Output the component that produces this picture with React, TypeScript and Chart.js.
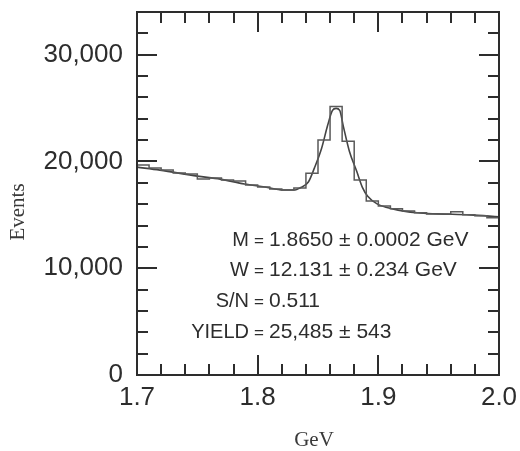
import React, { useEffect, useRef } from "react";
import { Chart, registerables } from "chart.js";

Chart.register(...registerables);

// ---- data ----
const binLow = [
  1.7, 1.71, 1.72, 1.73, 1.74, 1.75, 1.76, 1.77, 1.78, 1.79,
  1.8, 1.81, 1.82, 1.83, 1.84, 1.85, 1.86, 1.87, 1.88, 1.89,
  1.9, 1.91, 1.92, 1.93, 1.94, 1.95, 1.96, 1.97, 1.98, 1.99,
];
const binHighEnd = 2.0;
const binCounts = [
  19660, 19380, 19190, 18910, 18820, 18350, 18450, 18260, 18170, 17800,
  17610, 17420, 17330, 17520, 18900, 22000, 25150, 21900, 18260, 16300,
  15840, 15560, 15370, 15190, 15090, 15090, 15280, 15000, 14910, 14720,
];

const fitMass = [
  1.7, 1.719, 1.75, 1.769, 1.789, 1.806, 1.821, 1.831, 1.835, 1.842,
  1.847, 1.853, 1.858, 1.862, 1.865, 1.868, 1.871, 1.876, 1.882, 1.887,
  1.891, 1.899, 1.912, 1.932, 1.949, 1.976, 2.0,
];
const fitEvents = [
  19470, 19190, 18630, 18350, 17890, 17610, 17330, 17330, 17520, 18075,
  19380, 21240, 23390, 24780, 24970, 24780, 23290, 20960, 19100, 17520,
  16770, 16030, 15560, 15190, 15090, 15000, 14810,
];

const xMin = 1.7;
const xMax = 2.0;
const yMin = 0;
const yMax = 34000;
const xLabelValues = [1.7, 1.8, 1.9, 2.0];
const yLabelValues = [0, 10000, 20000, 30000];
const xMinorTicks = [1.72, 1.74, 1.76, 1.78, 1.82, 1.84, 1.86, 1.88, 1.92, 1.94, 1.96, 1.98];
const xMajorTicks = [1.8, 1.9];
const yMinorTicks = [2000, 4000, 6000, 8000, 12000, 14000, 16000, 18000, 22000, 24000, 26000, 28000, 32000];
const yMajorTicks = [10000, 20000, 30000];

const statNames = ["M", "W", "S/N", "YIELD"];
const statValues = ["1.8650 \u00b1 0.0002 GeV", "12.131 \u00b1 0.234 GeV", "0.511", "25,485 \u00b1 543"];
const xTitle = "GeV";
const yTitle = "Events";

const INK = "#2d2d2d";

const framePlugin = {
  id: "framePlugin",
  afterDraw(chart: any) {
    const { ctx, chartArea: a, scales } = chart;
    const xs = scales.x;
    const ys = scales.y;
    ctx.save();
    ctx.strokeStyle = INK;
    ctx.lineWidth = 2;
    ctx.strokeRect(a.left, a.top, a.right - a.left, a.bottom - a.top);

    ctx.lineWidth = 2;
    ctx.beginPath();
    const xt = (v: number, len: number) => {
      const px = Math.round(xs.getPixelForValue(v));
      ctx.moveTo(px, a.bottom);
      ctx.lineTo(px, a.bottom - len);
      ctx.moveTo(px, a.top);
      ctx.lineTo(px, a.top + len);
    };
    const yt = (v: number, len: number) => {
      const py = Math.round(ys.getPixelForValue(v));
      ctx.moveTo(a.left, py);
      ctx.lineTo(a.left + len, py);
      ctx.moveTo(a.right, py);
      ctx.lineTo(a.right - len, py);
    };
    xMinorTicks.forEach((v) => xt(v, 11));
    xMajorTicks.forEach((v) => xt(v, 20));
    yMinorTicks.forEach((v) => yt(v, 11));
    yMajorTicks.forEach((v) => yt(v, 20));
    ctx.stroke();

    // statistics box text, aligned on "="
    ctx.fillStyle = INK;
    ctx.textBaseline = "middle";
    const rows = [240, 270, 301, 332];
    statNames.forEach((name, i) => {
      ctx.font = "20px 'Liberation Sans', Arial, sans-serif";
      ctx.textAlign = "right";
      ctx.fillText(name, 249, rows[i]);
      ctx.font = "17px 'Liberation Sans', Arial, sans-serif";
      ctx.textAlign = "center";
      ctx.fillText("=", 259, rows[i] + 1);
      ctx.font = "21px 'Liberation Sans', Arial, sans-serif";
      ctx.textAlign = "left";
      ctx.fillText(statValues[i], 269, rows[i]);
    });

    // axis titles
    ctx.fillStyle = "#3a3a3a";
    ctx.font = "21px 'Liberation Serif', 'Times New Roman', serif";
    ctx.textAlign = "center";
    ctx.textBaseline = "middle";
    ctx.fillText(xTitle, 314, 440);
    ctx.save();
    ctx.translate(18, 212);
    ctx.rotate(-Math.PI / 2);
    ctx.fillText(yTitle, 0, 0);
    ctx.restore();
    ctx.restore();
  },
};

export default function App() {
  const ref = useRef<HTMLCanvasElement | null>(null);

  useEffect(() => {
    if (!ref.current) return;
    const histData = binLow.map((x, i) => ({ x, y: binCounts[i] }));
    histData.push({ x: binHighEnd, y: binCounts[binCounts.length - 1] });
    const fitData = fitMass.map((x, i) => ({ x, y: fitEvents[i] }));

    const tickFont = { family: "'Liberation Sans', Arial, sans-serif", size: 26 };

    const chart = new Chart(ref.current, {
      type: "line",
      data: {
        datasets: [
          {
            data: histData,
            stepped: "before",
            borderColor: "#5a5a5a",
            borderWidth: 1.5,
            pointRadius: 0,
            fill: false,
          },
          {
            data: fitData,
            borderColor: "#444444",
            borderWidth: 1.6,
            pointRadius: 0,
            cubicInterpolationMode: "monotone",
            fill: false,
          },
        ],
      } as any,
      options: {
        animation: false,
        responsive: false,
        maintainAspectRatio: false,
        layout: { padding: { left: 0, right: 21, top: 12, bottom: 0 } },
        plugins: { legend: { display: false }, tooltip: { enabled: false } },
        scales: {
          x: {
            type: "linear",
            min: xMin,
            max: xMax,
            grid: { display: false, drawTicks: false },
            border: { display: false },
            afterBuildTicks: (s: any) => {
              s.ticks = xLabelValues.map((v) => ({ value: v }));
            },
            afterFit: (s: any) => {
              s.height = 76;
              s.paddingLeft = 0;
              s.paddingRight = 0;
              s.paddingTop = 0;
              s.paddingBottom = 0;
            },
            ticks: {
              autoSkip: false,
              maxRotation: 0,
              padding: 7,
              color: INK,
              font: tickFont,
              callback: (v: any) => Number(v).toFixed(1),
            },
          },
          y: {
            type: "linear",
            min: yMin,
            max: yMax,
            grid: { display: false, drawTicks: false },
            border: { display: false },
            afterBuildTicks: (s: any) => {
              s.ticks = yLabelValues.map((v) => ({ value: v }));
            },
            afterFit: (s: any) => {
              s.width = 137;
              s.paddingLeft = 0;
              s.paddingRight = 0;
              s.paddingTop = 0;
              s.paddingBottom = 0;
            },
            ticks: {
              autoSkip: false,
              padding: 14,
              color: INK,
              font: tickFont,
              callback: (v: any) => Number(v).toLocaleString("en-US"),
            },
          },
        },
      } as any,
      plugins: [framePlugin],
    });
    return () => chart.destroy();
  }, []);

  return (
    <div style={{ position: "absolute", left: 0, top: 0, width: 520, height: 451, background: "#fff" }}>
      <canvas ref={ref} width={520} height={451} style={{ display: "block", width: 520, height: 451 }} />
    </div>
  );
}
